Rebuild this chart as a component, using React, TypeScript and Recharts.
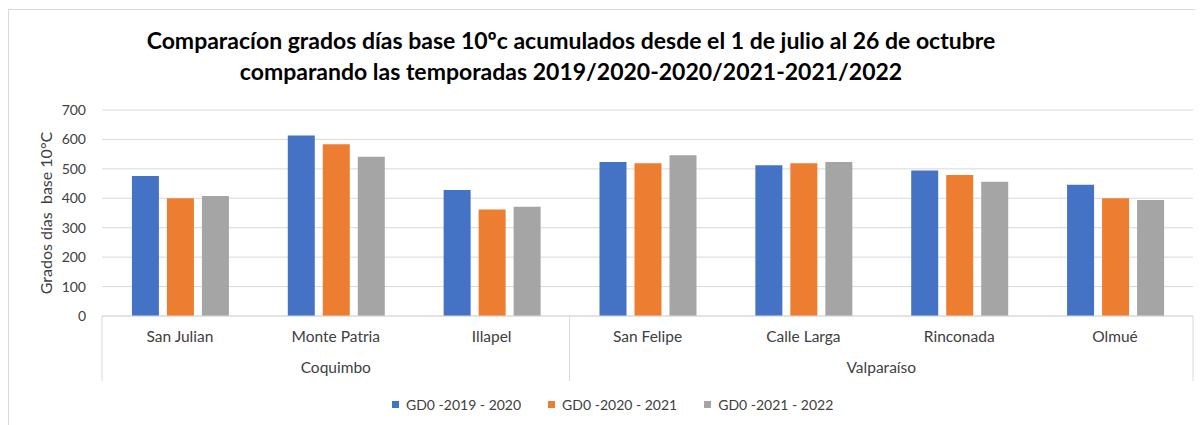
import React from "react";
import {
  BarChart,
  Bar,
  XAxis,
  YAxis,
  CartesianGrid,
  Legend,
} from "recharts";

const categories = [
  "San Julian",
  "Monte Patria",
  "Illapel",
  "San Felipe",
  "Calle Larga",
  "Rinconada",
  "Olmué",
];
const regions = [
  "Coquimbo",
  "Coquimbo",
  "Coquimbo",
  "Valparaíso",
  "Valparaíso",
  "Valparaíso",
  "Valparaíso",
];
const gd2019 = [476, 613, 428, 523, 512, 494, 446];
const gd2020 = [400, 584, 362, 519, 519, 479, 400];
const gd2021 = [408, 541, 371, 546, 523, 456, 394];
const seriesNames = ["GD0 -2019 - 2020", "GD0 -2020 - 2021", "GD0 -2021 - 2022"];
const seriesColors = ["#4472C4", "#ED7D31", "#A5A5A5"];
const yTicks = [0, 100, 200, 300, 400, 500, 600, 700];

const data = categories.map((name, i) => ({
  name,
  region: regions[i],
  s0: gd2019[i],
  s1: gd2020[i],
  s2: gd2021[i],
}));

const FONT = "Lato, 'Noto Sans', sans-serif";
const TEXT = "#404040";
const GRID = "#d9d9d9";
const W = 1195;
const H = 417;
const PLOT_W = W - 94 - 10;

// second axis row: region names centred under their group, with separators
const RegionTick = (props: any) => {
  const { x, y, payload } = props;
  const i = payload.index;
  const half = payload.offset || PLOT_W / categories.length / 2;
  const first = i === 0 || regions[i - 1] !== regions[i];
  const last = i === regions.length - 1;
  let end = i;
  while (end + 1 < regions.length && regions[end + 1] === regions[i]) end++;
  return (
    <g>
      {first && (
        <line x1={x - half} x2={x - half} y1={y - 32} y2={y + 33} stroke={GRID} />
      )}
      {last && (
        <line x1={x + half} x2={x + half} y1={y - 32} y2={y + 33} stroke={GRID} />
      )}
      {first && (
        <text
          x={x + (end - i) * half}
          y={y + 25}
          textAnchor="middle"
          fill={TEXT}
          fontSize={15.5}
          fontFamily={FONT}
        >
          {regions[i]}
        </text>
      )}
    </g>
  );
};

const YLabel = (props: any) => {
  const { viewBox } = props;
  const cx = viewBox.x + 37;
  const cy = viewBox.y + viewBox.height / 2;
  return (
    <text
      x={cx}
      y={cy}
      transform={`rotate(-90 ${cx} ${cy})`}
      textAnchor="middle"
      dominantBaseline="central"
      fill={TEXT}
      fontSize={16}
      fontFamily={FONT}
      style={{ whiteSpace: "pre" }}
    >
      Grados días  base 10°C
    </text>
  );
};

const renderLegend = (props: any) => (
  <div style={{ display: "flex", fontFamily: FONT, fontSize: 14, color: TEXT }}>
    {(props.payload || []).map((entry: any) => (
      <div
        key={entry.value}
        style={{ display: "flex", alignItems: "center", marginRight: 27 }}
      >
        <span
          style={{
            width: 7,
            height: 7,
            background: entry.color,
            marginRight: 7,
            display: "inline-block",
          }}
        />
        <span style={{ whiteSpace: "pre" }}>{entry.value}</span>
      </div>
    ))}
  </div>
);

export default function App() {
  return (
    <div style={{ position: "relative", width: W, height: H, background: "#fff" }}>
      <div
        style={{
          position: "absolute",
          left: 0,
          top: 1,
          width: W + 20,
          height: H + 20,
          borderLeft: `1px solid ${GRID}`,
          borderTop: `1px solid ${GRID}`,
        }}
      />
      <div
        style={{
          position: "absolute",
          left: 0,
          top: 17,
          width: 1126,
          textAlign: "center",
          fontFamily: FONT,
          fontWeight: 700,
          fontSize: 23,
          lineHeight: "31px",
          color: "#000",
        }}
      >
        Comparacíon grados días base 10ºc acumulados desde el 1 de julio al 26 de octubre
        <br />
        comparando las temporadas 2019/2020-2020/2021-2021/2022
      </div>
      <BarChart
        width={W}
        height={H}
        data={data}
        margin={{ top: 102, right: 10, bottom: 44, left: 0 }}
        barCategoryGap="19.2%"
        barGap={8}
        style={{ position: "absolute", left: 0, top: 0 }}
      >
        <CartesianGrid vertical={false} stroke={GRID} />
        <XAxis
          dataKey="name"
          height={32}
          axisLine={{ stroke: GRID }}
          tickLine={false}
          tickSize={6}
          tickMargin={9}
          interval={0}
          tick={{ fill: TEXT, fontSize: 15.5, fontFamily: FONT }}
        />
        <XAxis
          xAxisId="region"
          dataKey="name"
          height={33}
          axisLine={false}
          tickLine={false}
          tickSize={0}
          tickMargin={0}
          interval={0}
          tick={<RegionTick />}
        />
        <YAxis
          width={94}
          domain={[0, 700]}
          ticks={yTicks}
          axisLine={false}
          tickLine={false}
          tickSize={6}
          tickMargin={10}
          tick={{ fill: TEXT, fontSize: 14, fontFamily: FONT }}
          label={<YLabel />}
        />
        <Legend
          verticalAlign="middle"
          align="center"
          content={renderLegend}
          wrapperStyle={{ top: 388, left: 384, width: "auto" }}
        />
        {["s0", "s1", "s2"].map((k, i) => (
          <Bar
            key={k}
            dataKey={k}
            name={seriesNames[i]}
            fill={seriesColors[i]}
            isAnimationActive={false}
          />
        ))}
      </BarChart>
    </div>
  );
}
